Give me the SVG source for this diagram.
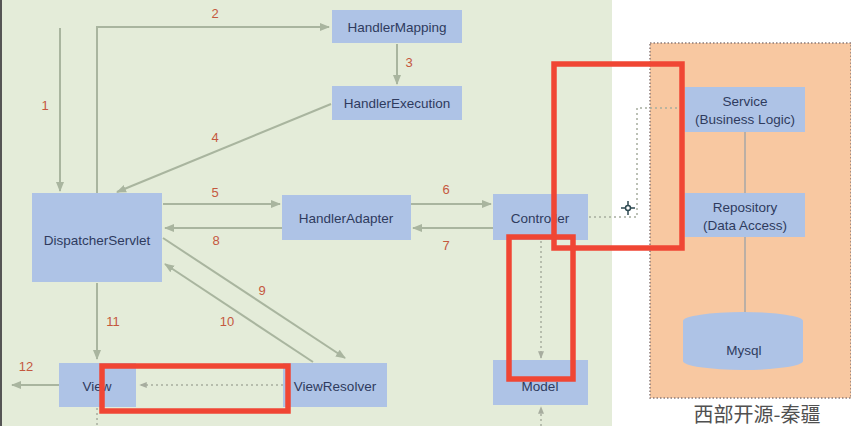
<svg xmlns="http://www.w3.org/2000/svg" width="851" height="426" viewBox="0 0 851 426">
<defs>
<style>
.node{fill:#aec3e6;}
.lbl{font-family:"Liberation Sans","Noto Sans",Arial,sans-serif;font-size:13.5px;fill:#2f3b5e;text-anchor:middle;dominant-baseline:central;}
.num{font-family:"Liberation Sans","Noto Sans",Arial,sans-serif;font-size:13px;fill:#c4583e;text-anchor:middle;dominant-baseline:central;}
.ln{fill:none;stroke:#a9b59f;stroke-width:2;marker-end:url(#ah);}
.dot{fill:none;stroke:#a7ad9f;stroke-width:1.5;stroke-dasharray:2 3;}
.red{fill:none;stroke:#f04634;stroke-width:5.5;}
</style>
<marker id="ah" viewBox="0 0 10 10" refX="9" refY="5" markerWidth="5" markerHeight="5" orient="auto-start-reverse">
<path d="M0,1 L10,5 L0,9 z" fill="#a9b59f"/>
</marker>
<marker id="ahd" viewBox="0 0 10 10" refX="9" refY="5" markerWidth="5" markerHeight="5" orient="auto-start-reverse">
<path d="M0,1 L10,5 L0,9 z" fill="#a7ad9f"/>
</marker>
</defs>
<rect x="0" y="0" width="851" height="426" fill="#ffffff"/>
<rect x="0" y="0" width="612" height="426" fill="#e4ecd9"/>
<rect x="0" y="0" width="2" height="426" fill="#555"/>
<rect x="650" y="43" width="201" height="355" fill="#f8c8a1" stroke="#8a7a78" stroke-width="1.5" stroke-dasharray="1.5 2"/>

<g id="connectors">
<path class="ln" d="M60,28 V191"/>
<path class="ln" d="M97,193 V27 H329"/>
<path class="ln" d="M397,44 V84"/>
<path class="ln" d="M331,104 L117,192"/>
<path class="ln" d="M163,204 H280"/>
<path class="ln" d="M411,204 H491"/>
<path class="ln" d="M493,228 H413"/>
<path class="ln" d="M282,228 H165"/>
<path class="ln" d="M163,238 L345,358"/>
<path class="ln" d="M313,362 L165,264"/>
<path class="ln" d="M97,283 V359"/>
<path class="ln" d="M59,385 H12"/>
<path class="dot" d="M283,385 H140" marker-end="url(#ahd)"/>
<path class="dot" d="M541,241 V358" marker-end="url(#ahd)"/>
<path class="dot" d="M541,426 V407" marker-end="url(#ahd)"/>
<path class="dot" d="M97,408 V426"/>
<path class="dot" d="M589,217 H637 V108 H684"/>
<path d="M745,132 V193 M745,237 V313" stroke="#a6a7a6" stroke-width="1.5" fill="none"/>
<text class="num" x="45" y="105">1</text>
<text class="num" x="215" y="13">2</text>
<text class="num" x="409" y="62">3</text>
<text class="num" x="215" y="137">4</text>
<text class="num" x="215" y="192">5</text>
<text class="num" x="446" y="189">6</text>
<text class="num" x="446" y="245">7</text>
<text class="num" x="216" y="240">8</text>
<text class="num" x="262" y="290">9</text>
<text class="num" x="227" y="321">10</text>
<text class="num" x="113" y="321">11</text>
<text class="num" x="26" y="366">12</text>
</g>

<g id="HandlerMapping"><rect class="node" x="332" y="10" width="130" height="33"/><text class="lbl" x="397" y="27">HandlerMapping</text></g>
<g id="HandlerExecution"><rect class="node" x="332" y="86" width="130" height="34"/><text class="lbl" x="397" y="103">HandlerExecution</text></g>
<g id="DispatcherServlet"><rect class="node" x="32" y="193" width="130" height="89"/><text class="lbl" x="97" y="240">DispatcherServlet</text></g>
<g id="HandlerAdapter"><rect class="node" x="282" y="195" width="129" height="45"/><text class="lbl" x="346" y="218">HandlerAdapter</text></g>
<g id="Controller"><rect class="node" x="493" y="194" width="95" height="46"/><text class="lbl" x="540" y="218">Controller</text></g>
<g id="Model"><rect class="node" x="493" y="360" width="95" height="45"/><text class="lbl" x="540" y="386">Model</text></g>
<g id="View"><rect class="node" x="59" y="363" width="77" height="44"/><text class="lbl" x="97" y="386">View</text></g>
<g id="ViewResolver"><rect class="node" x="283" y="363" width="104" height="44"/><text class="lbl" x="335" y="386">ViewResolver</text></g>
<g id="Service"><rect class="node" x="685" y="87" width="120" height="45"/><text class="lbl" x="745" y="101">Service</text><text class="lbl" x="745" y="119">(Business Logic)</text></g>
<g id="Repository"><rect class="node" x="685" y="193" width="120" height="44"/><text class="lbl" x="745" y="207">Repository</text><text class="lbl" x="745" y="225">(Data Access)</text></g>
<g id="Mysql"><path class="node" d="M683,321 A60,9 0 0 1 803,321 V361 A60,9 0 0 1 683,361 Z"/><text class="lbl" x="744" y="350">Mysql</text></g>

<g id="annotations">
<rect class="red" x="554" y="64" width="128" height="184"/>
<rect class="red" x="102" y="366" width="186" height="45"/>
<rect class="red" x="509" y="237" width="64" height="142"/>
<g stroke="#2f4a52" stroke-width="1.5" fill="none"><circle cx="628" cy="208" r="2.5"/><path d="M621,208 H625.5 M630.5,208 H635 M628,201 V205.5 M628,210.5 V215"/></g>
<text x="757" y="413" font-family="'Noto Sans CJK SC','Noto Sans',sans-serif" font-size="20" fill="#505050" text-anchor="middle" dominant-baseline="central">西部开源-秦疆</text>
</g>
</svg>
